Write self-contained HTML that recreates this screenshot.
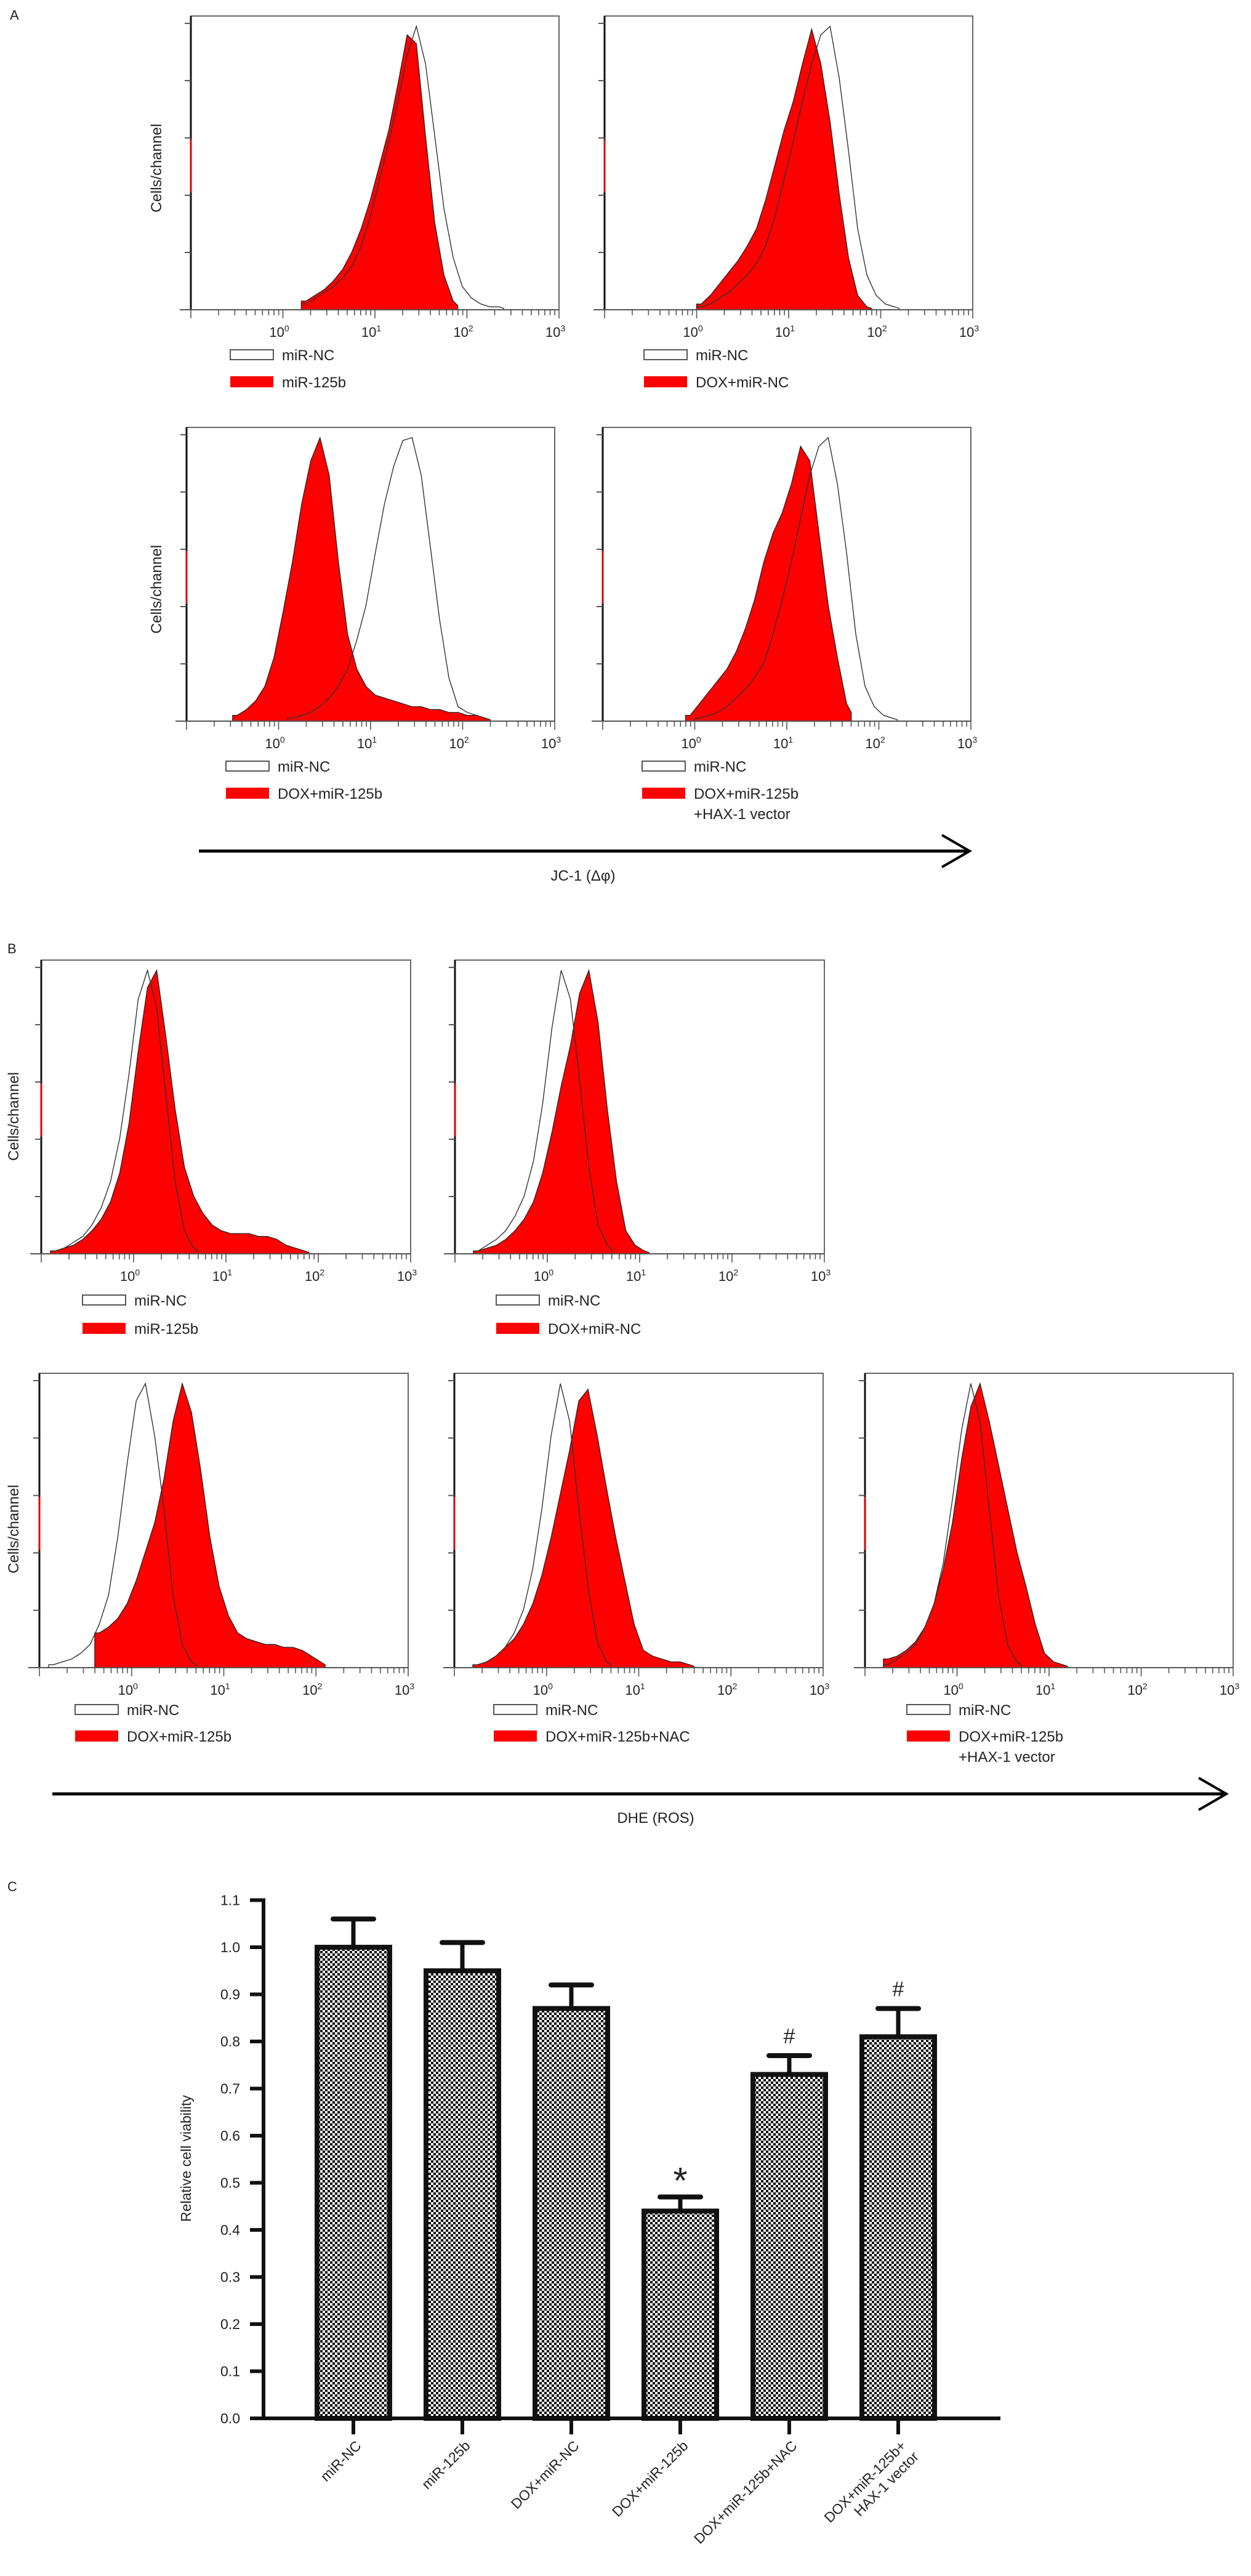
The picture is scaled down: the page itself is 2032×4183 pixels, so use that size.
<!DOCTYPE html>
<html>
<head>
<meta charset="utf-8">
<style>
  html,body{margin:0;padding:0;background:#fff;}
  svg{display:block;}
  text{font-family:"Liberation Sans",sans-serif;fill:#222;}
</style>
</head>
<body>
<svg id="fig" width="2032" height="4183" viewBox="0 0 2032 4183" xmlns="http://www.w3.org/2000/svg">
  <defs>
    <pattern id="checker" width="8" height="8" patternUnits="userSpaceOnUse">
      <rect width="8" height="8" fill="#fff"/>
      <rect x="0" y="0" width="4" height="4" fill="#111"/>
      <rect x="4" y="4" width="4" height="4" fill="#111"/>
    </pattern>
  </defs>
  <g id="panelA"></g>
  <g id="panelB"></g>
  <g id="panelC"></g>
</svg>
<script>
// ---------- Histogram data (bins of 0.1 log-decade from 10^-1 to 10^3, % of max) ----------
const binStartLog = -1;
const binStepLog = 0.1;
const decadeLabels = ["10","10","10","10"];
const decadeExps = ["0","1","2","3"];

const a1Control = [0,0,0,0,0,0,0,0,0,0,0,0,2,4,6,8,11,15,22,32,45,58,72,88,98,85,60,35,18,8,4,2,1,1,0,0,0,0,0,0,0];
const a1Treated = [0,0,0,0,0,0,0,0,0,0,0,0,3,5,7,10,14,20,28,38,50,62,78,95,92,60,30,12,3,0,0,0,0,0,0,0,0,0,0,0,0];
const a2Control = [0,0,0,0,0,0,0,0,0,0,1,2,4,6,9,12,16,22,32,45,58,72,85,95,98,80,55,28,12,5,2,1,0,0,0,0,0,0,0,0,0];
const a2Treated = [0,0,0,0,0,0,0,0,0,0,2,5,9,13,17,22,28,38,50,62,72,85,97,85,65,40,18,5,1,0,0,0,0,0,0,0,0,0,0,0,0];
const a3Control = [0,0,0,0,0,0,0,0,0,0,0,1,2,3,5,8,12,18,28,40,58,75,88,97,98,85,60,35,15,5,3,2,1,0,0,0,0,0,0,0,0];
const a3Treated = [0,0,0,0,0,2,4,7,12,22,38,55,75,90,98,85,55,30,18,12,9,8,7,6,5,5,4,4,3,3,2,2,1,0,0,0,0,0,0,0,0];
const a4Control = [0,0,0,0,0,0,0,0,0,0,1,2,3,5,8,11,15,20,30,42,55,70,85,95,98,82,58,30,12,5,2,1,0,0,0,0,0,0,0,0,0];
const a4Treated = [0,0,0,0,0,0,0,0,0,2,6,10,14,18,24,32,42,55,65,72,82,95,90,65,40,22,6,0,0,0,0,0,0,0,0,0,0,0,0,0,0];

const b1Control = [0,1,2,4,6,10,16,25,40,62,88,98,85,55,25,8,2,0,0,0,0,0,0,0,0,0,0,0,0,0,0,0,0,0,0,0,0,0,0,0,0];
const b1Treated = [0,1,2,3,5,8,12,18,28,45,70,92,98,75,50,30,20,14,10,8,7,7,7,6,6,5,3,2,1,0,0,0,0,0,0,0,0,0,0,0,0];
const b2Control = [0,0,1,3,5,8,13,20,32,52,78,98,88,60,30,10,3,0,0,0,0,0,0,0,0,0,0,0,0,0,0,0,0,0,0,0,0,0,0,0,0];
const b2Treated = [0,0,1,2,3,5,8,12,18,28,42,58,72,90,98,80,50,25,8,3,1,0,0,0,0,0,0,0,0,0,0,0,0,0,0,0,0,0,0,0,0];
const b3Control = [0,1,2,3,5,8,15,25,45,70,92,98,80,55,25,8,2,0,0,0,0,0,0,0,0,0,0,0,0,0,0,0,0,0,0,0,0,0,0,0,0];
const b3Treated = [0,0,0,0,0,0,12,14,17,22,30,40,50,65,85,98,88,68,45,28,18,12,10,9,8,8,7,7,6,4,2,0,0,0,0,0,0,0,0,0,0];
const b4Control = [0,0,1,2,4,7,12,20,34,55,80,98,85,55,28,9,2,0,0,0,0,0,0,0,0,0,0,0,0,0,0,0,0,0,0,0,0,0,0,0,0];
const b4Treated = [0,0,1,2,4,7,10,15,22,32,45,60,75,92,96,80,62,45,30,15,6,4,3,2,2,1,0,0,0,0,0,0,0,0,0,0,0,0,0,0,0];
const b5Control = [0,0,1,3,5,8,14,22,36,58,82,98,85,55,25,8,2,0,0,0,0,0,0,0,0,0,0,0,0,0,0,0,0,0,0,0,0,0,0,0,0];
const b5Treated = [0,0,3,4,6,9,14,22,34,50,72,90,98,85,70,55,40,28,15,5,2,1,0,0,0,0,0,0,0,0,0,0,0,0,0,0,0,0,0,0,0];

// ---------- Bar chart data ----------
const barCategories = ["miR-NC","miR-125b","DOX+miR-NC","DOX+miR-125b","DOX+miR-125b+NAC","DOX+miR-125b+|HAX-1 vector"];
const barValues = [1.00,0.95,0.87,0.44,0.73,0.81];
const barErrors = [0.06,0.06,0.05,0.03,0.04,0.06];
const barMarks = ["","","","*","#","#"];
const yTickValues = [0.0,0.1,0.2,0.3,0.4,0.5,0.6,0.7,0.8,0.9,1.0,1.1];
const yTickLabels = ["0.0","0.1","0.2","0.3","0.4","0.5","0.6","0.7","0.8","0.9","1.0","1.1"];

const NS = "http://www.w3.org/2000/svg";
function mk(tag, attrs, parent){
  const e = document.createElementNS(NS, tag);
  for (const k in attrs) e.setAttribute(k, attrs[k]);
  if (parent) parent.appendChild(e);
  return e;
}

function histPath(values, sx, sy, bottom){
  let first = -1, last = -1;
  for (let i=0;i<values.length;i++){ if (values[i]>0){ if(first<0) first=i; last=i; } }
  if (first<0) return "";
  const xs = i => sx(binStartLog + (i+0.5)*binStepLog);
  let d = "M" + xs(first-0.5).toFixed(1) + "," + bottom;
  d += " L" + xs(first-0.5).toFixed(1) + "," + sy(values[first]).toFixed(1);
  for (let i=first;i<=last;i++){
    d += " L" + xs(i).toFixed(1) + "," + sy(values[i]).toFixed(1);
  }
  d += " L" + xs(last+0.5).toFixed(1) + "," + sy(values[last]*0.5).toFixed(1);
  d += " L" + xs(last+0.5).toFixed(1) + "," + bottom + " Z";
  return d;
}

function drawHistPanel(parent, name, L, T, R, B, control, treated, legendTreated, legendDy1, legendDy2, swatchDx){
  const g = mk("g", {}, parent);
  
  
  const W = R - L, H = B - T;
  const dec = W/4;
  const sx = l => L + (l - binStartLog)*dec;
  const sy = v => B - v/100*H*0.985;

  const p1 = mk("path", {d: histPath(treated, sx, sy, B), fill:"#ff0000", stroke:"#222", "stroke-width":"1.3"}, g);
  
  
  const p2 = mk("path", {d: histPath(control, sx, sy, B), fill:"none", stroke:"#333", "stroke-width":"1.4"}, g);
  
  

  const fr = mk("rect", {x:L, y:T, width:W, height:H, fill:"none", stroke:"#666", "stroke-width":"2"}, g);
  
  
  mk("line", {x1:L, y1:T, x2:L, y2:B, stroke:"#111", "stroke-width":"3"}, g);
  mk("line", {x1:L, y1:T+H*0.42, x2:L, y2:T+H*0.6, stroke:"#d00", "stroke-width":"3"}, g);
  mk("line", {x1:L-18, y1:B, x2:R, y2:B, stroke:"#555", "stroke-width":"2"}, g);
  for (let k=0;k<6;k++){
    const y = B - k*H*0.195;
    mk("line", {x1:L-10, y1:y, x2:L, y2:y, stroke:"#555", "stroke-width":"2"}, g);
  }
  for (let d=-1; d<3; d++){
    for (let m=1; m<10; m++){
      const l = d + Math.log10(m);
      const x = sx(l);
      const len = (m===1)? 14 : 9;
      mk("line", {x1:x, y1:B, x2:x, y2:B+len, stroke:"#555", "stroke-width":"1.6"}, g);
    }
  }
  mk("line", {x1:R, y1:B, x2:R, y2:B+14, stroke:"#555", "stroke-width":"1.6"}, g);
  for (let i=0;i<decadeLabels.length;i++){
    const t = mk("text", {x:sx(i)-6, y:B+44, "font-size":"22", "text-anchor":"middle"}, g);
    
    
    t.textContent = decadeLabels[i];
    const s = mk("tspan", {dy:"-9", "font-size":"14"}, t);
    s.textContent = decadeExps[i];
  }
  const sxL = L + swatchDx;
  const r1 = mk("rect", {x:sxL, y:B+legendDy1-8, width:70, height:16, fill:"#fff", stroke:"#444", "stroke-width":"1.8"}, g);
  
  
  const t1 = mk("text", {x:sxL+84, y:B+legendDy1+9, "font-size":"24"}, g);
  
  
  t1.textContent = "miR-NC";
  const r2 = mk("rect", {x:sxL, y:B+legendDy2-9, width:70, height:18, fill:"#ff0000"}, g);
  
  
  const lines = legendTreated.split("|");
  for (let i=0;i<lines.length;i++){
    const t2 = mk("text", {x:sxL+84, y:B+legendDy2+9+i*33, "font-size":"24"}, g);
    
    
    t2.textContent = lines[i];
  }
}

function yTitle(parent, x, y, size){
  const t = mk("text", {x:x, y:y, "font-size":size, "text-anchor":"middle", transform:"rotate(-90 "+x+" "+y+")"}, parent);
  
  
  t.textContent = "Cells/channel";
}

function arrow(parent, name, x1, x2, y){
  const g = mk("g", {}, parent);
  
  
  mk("line", {x1:x1, y1:y, x2:x2, y2:y, stroke:"#000", "stroke-width":"5"}, g);
  mk("polyline", {points:(x2-45)+","+(y-26)+" "+x2+","+y+" "+(x2-45)+","+(y+26), fill:"none", stroke:"#000", "stroke-width":"4"}, g);
}

function label(parent, name, txt, x, y, size, anchor){
  const t = mk("text", {x:x, y:y, "font-size":size, "text-anchor":anchor||"start"}, parent);
  
  
  t.textContent = txt;
  return t;
}

// ---------- Panel A ----------
const pA = document.getElementById("panelA");
label(pA, "panel-label-a", "A", 16, 32, 22);
drawHistPanel(pA, "histogram-a1", 310, 26, 908, 503, a1Control, a1Treated, "miR-125b", 73, 117, 64);
drawHistPanel(pA, "histogram-a2", 982, 26, 1580, 503, a2Control, a2Treated, "DOX+miR-NC", 73, 117, 64);
drawHistPanel(pA, "histogram-a3", 303, 694, 901, 1171, a3Control, a3Treated, "DOX+miR-125b", 73, 117, 64);
drawHistPanel(pA, "histogram-a4", 979, 694, 1577, 1171, a4Control, a4Treated, "DOX+miR-125b|+HAX-1 vector", 73, 117, 64);
yTitle(pA, 262, 273, 24);
yTitle(pA, 262, 957, 24);
arrow(pA, "jc1-arrow", 323, 1575, 1382);
label(pA, "jc1-axis-title", "JC-1 (Δφ)", 947, 1430, 24, "middle");

// ---------- Panel B ----------
const pB = document.getElementById("panelB");
label(pB, "panel-label-b", "B", 12, 1548, 22);
drawHistPanel(pB, "histogram-b1", 67, 1559, 667, 2036, b1Control, b1Treated, "miR-125b", 75, 121, 67);
drawHistPanel(pB, "histogram-b2", 739, 1559, 1339, 2036, b2Control, b2Treated, "DOX+miR-NC", 75, 121, 67);
drawHistPanel(pB, "histogram-b3", 64, 2230, 663, 2708, b3Control, b3Treated, "DOX+miR-125b", 68, 111, 58);
drawHistPanel(pB, "histogram-b4", 738, 2230, 1337, 2708, b4Control, b4Treated, "DOX+miR-125b+NAC", 68, 111, 64);
drawHistPanel(pB, "histogram-b5", 1405, 2230, 2003, 2708, b5Control, b5Treated, "DOX+miR-125b|+HAX-1 vector", 68, 111, 68);
yTitle(pB, 30, 1813, 24);
yTitle(pB, 30, 2483, 24);
arrow(pB, "dhe-arrow", 85, 1992, 2913);
label(pB, "dhe-axis-title", "DHE (ROS)", 1065, 2960, 24, "middle");

// ---------- Panel C: bar chart ----------
const pC = document.getElementById("panelC");
label(pC, "panel-label-c", "C", 12, 3071, 22);
const cY0 = 3927, cUnit = 765;
const cX0 = 574, cStep = 177, cBarW = 118;
const yC = v => cY0 - v*cUnit;
const xC = i => cX0 + i*cStep;

for (let i=0;i<barValues.length;i++){
  const g = mk("g", {}, pC);
  
  
  const top = yC(barValues[i]);
  mk("rect", {x:xC(i)-cBarW/2, y:top, width:cBarW, height:cY0-top, fill:"url(#checker)", stroke:"#111", "stroke-width":"8"}, g);
  const et = yC(barValues[i]+barErrors[i]);
  const eb = mk("line", {x1:xC(i), y1:top, x2:xC(i), y2:et, stroke:"#111", "stroke-width":"7"}, g);
  
  
  mk("line", {x1:xC(i)-33, y1:et, x2:xC(i)+33, y2:et, stroke:"#111", "stroke-width":"8", "stroke-linecap":"round"}, g);
  if (barMarks[i]){
    const isStar = barMarks[i]==="*";
    const m = mk("text", {x:xC(i), y: isStar ? et - 6 : et - 20, "font-size": isStar? "60":"34", "text-anchor":"middle", "font-family": isStar? "Liberation Sans, sans-serif" : "Liberation Serif, serif"}, g);
    
    
    m.textContent = barMarks[i];
  }
  mk("line", {x1:xC(i), y1:cY0, x2:xC(i), y2:cY0+26, stroke:"#111", "stroke-width":"6"}, g);
  const parts = barCategories[i].split("|");
  const lx = xC(i)+14, ly = cY0+46;
  const t = mk("text", {x:lx, y:ly, "font-size":"23", "text-anchor":"end", transform:"rotate(-45 "+lx+" "+ly+")"}, g);
  
  
  t.textContent = parts[0];
  if (parts.length>1){
    const t2 = mk("text", {x:lx+2, y:ly+27, "font-size":"23", "text-anchor":"end", transform:"rotate(-45 "+lx+" "+ly+")"}, g);
    
    
    t2.textContent = parts[1];
  }
}
const yAx = mk("line", {x1:428, y1:yC(1.1)-3, x2:428, y2:cY0+3, stroke:"#111", "stroke-width":"6"}, pC);


const xAx = mk("line", {x1:406, y1:cY0, x2:1625, y2:cY0, stroke:"#111", "stroke-width":"6"}, pC);


for (let i=0;i<yTickValues.length;i++){
  const y = yC(yTickValues[i]);
  mk("line", {x1:406, y1:y, x2:428, y2:y, stroke:"#111", "stroke-width":"6"}, pC);
  const t = mk("text", {x:390, y:y+8, "font-size":"23", "text-anchor":"end"}, pC);
  
  
  t.textContent = yTickLabels[i];
}
const yt = mk("text", {x:310, y:3505, "font-size":"23", "text-anchor":"middle", transform:"rotate(-90 310 3505)"}, pC);


yt.textContent = "Relative cell viability";
</script>
</body>
</html>
